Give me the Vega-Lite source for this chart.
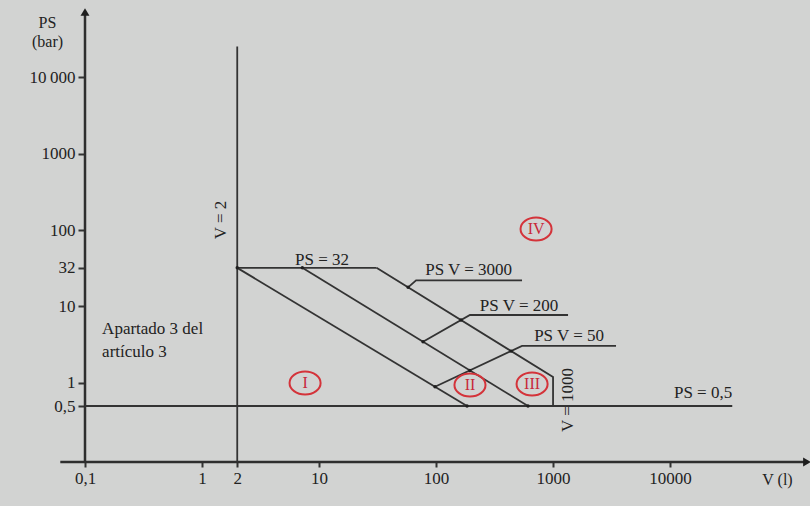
{
  "$schema": "https://vega.github.io/schema/vega-lite/v6.json",
  "autosize": {"type": "none"},
  "padding": {"left": 85, "top": 12, "right": 3, "bottom": 44},
  "width": 722,
  "height": 450,
  "background": "#d2d3d2",
  "config": {"view": {"stroke": null}, "font": "Liberation Serif"},
  "datasets": {
    "axes": [
      {"seg": "x", "ord": 1, "v": 0.0615, "ps": 0.0927},
      {"seg": "x", "ord": 2, "v": 148000, "ps": 0.0927},
      {"seg": "y", "ord": 1, "v": 0.1, "ps": 0.0927},
      {"seg": "y", "ord": 2, "v": 0.1, "ps": 70800}
    ],
    "arrows": [
      {"dir": "up", "v": 0.1, "ps": 70800},
      {"dir": "right", "v": 148000, "ps": 0.0927}
    ],
    "lines": [
      {"seg": "V2", "ord": 1, "v": 2, "ps": 0.0927},
      {"seg": "V2", "ord": 2, "v": 2, "ps": 25000},
      {"seg": "PS05", "ord": 1, "v": 0.1, "ps": 0.5},
      {"seg": "PS05", "ord": 2, "v": 34000, "ps": 0.5},
      {"seg": "PS32", "ord": 1, "v": 2, "ps": 32},
      {"seg": "PS32", "ord": 2, "v": 31, "ps": 32},
      {"seg": "A", "ord": 1, "v": 2, "ps": 32},
      {"seg": "A", "ord": 2, "v": 184, "ps": 0.5},
      {"seg": "B", "ord": 1, "v": 7.2, "ps": 32},
      {"seg": "B", "ord": 2, "v": 611, "ps": 0.5},
      {"seg": "C", "ord": 1, "v": 31, "ps": 32},
      {"seg": "C", "ord": 2, "v": 1000, "ps": 1.2},
      {"seg": "C", "ord": 3, "v": 1000, "ps": 0.5},
      {"seg": "L3000", "ord": 1, "v": 57.7, "ps": 17.8},
      {"seg": "L3000", "ord": 2, "v": 67.5, "ps": 22},
      {"seg": "L3000", "ord": 3, "v": 543, "ps": 22},
      {"seg": "L200", "ord": 1, "v": 77.4, "ps": 3.46},
      {"seg": "L200", "ord": 2, "v": 195, "ps": 7.74},
      {"seg": "L200", "ord": 3, "v": 1343, "ps": 7.74},
      {"seg": "L50", "ord": 1, "v": 98, "ps": 0.893},
      {"seg": "L50", "ord": 2, "v": 543, "ps": 3.05},
      {"seg": "L50", "ord": 3, "v": 3453, "ps": 3.05}
    ],
    "dots": [
      {"v": 2, "ps": 32},
      {"v": 7.2, "ps": 32},
      {"v": 57.7, "ps": 17.8},
      {"v": 77.4, "ps": 3.46},
      {"v": 163.5, "ps": 6.64},
      {"v": 98, "ps": 0.893},
      {"v": 194.6, "ps": 1.46},
      {"v": 438.5, "ps": 2.61},
      {"v": 184, "ps": 0.5},
      {"v": 611, "ps": 0.5}
    ],
    "labels": [
      {"text": "PS = 32", "v": 10.6, "ps": 41},
      {"text": "PS V = 3000", "v": 190, "ps": 30},
      {"text": "PS V = 200", "v": 512, "ps": 10.2},
      {"text": "PS V = 50", "v": 1371, "ps": 4.11},
      {"text": "PS = 0,5", "v": 19150, "ps": 0.74}
    ],
    "vlabels": [
      {"text": "V = 2", "v": 1.45, "ps": 135},
      {"text": "V = 1000", "v": 1343, "ps": 0.6}
    ],
    "notes": [
      {"text": "Apartado 3 del", "v": 0.14, "ps": 5.08},
      {"text": "artículo 3", "v": 0.14, "ps": 2.54}
    ],
    "cats": [
      {"text": "I", "v": 7.6, "ps": 1.0},
      {"text": "II", "v": 195, "ps": 0.94},
      {"text": "III", "v": 662, "ps": 0.97},
      {"text": "IV", "v": 716, "ps": 103}
    ]
  },
  "encoding": {
    "x": {
      "field": "v", "type": "quantitative",
      "scale": {"type": "log", "domain": [0.1, 148000], "nice": false},
      "axis": {
        "orient": "bottom", "domain": false, "grid": false,
        "values": [0.1, 1, 2, 10, 100, 1000, 10000],
        "labelExpr": "datum.value < 0.3 ? '0,1' : format(datum.value, 'd')",
        "tickSize": 5, "tickWidth": 2, "tickColor": "#333333",
        "labelFont": "Liberation Serif", "labelFontSize": 17, "labelColor": "#222222",
        "labelPadding": 3, "labelOverlap": false, "labelBound": false, "labelFlush": false,
        "title": "V (l)", "titleFont": "Liberation Serif", "titleFontSize": 16,
        "titleFontWeight": "normal", "titleColor": "#222222",
        "titleX": 692, "titleY": 17, "titleAlign": "center", "titleBaseline": "middle"
      }
    },
    "y": {
      "field": "ps", "type": "quantitative",
      "scale": {"type": "log", "domain": [0.0927, 70800], "nice": false},
      "axis": {
        "orient": "left", "domain": false, "grid": false,
        "values": [0.5, 1, 10, 32, 100, 1000, 10000],
        "labelExpr": "datum.value < 0.7 ? '0,5' : datum.value > 5000 ? '10\u2009000' : format(datum.value, 'd')",
        "tickSize": 7, "tickWidth": 2, "tickColor": "#333333",
        "labelFont": "Liberation Serif", "labelFontSize": 17, "labelColor": "#222222",
        "labelPadding": 3, "labelOverlap": false, "labelBound": false, "labelFlush": false,
        "title": ["PS", "(bar)"], "titleFont": "Liberation Serif", "titleFontSize": 16,
        "titleFontWeight": "normal", "titleColor": "#222222", "titleAngle": 0,
        "titleX": -38, "titleY": 2, "titleAlign": "center", "titleBaseline": "top", "titleLineHeight": 19
      }
    }
  },
  "layer": [
    {
      "data": {"name": "axes"},
      "mark": {"type": "line", "color": "#2e2e2e", "strokeWidth": 2.5},
      "encoding": {"detail": {"field": "seg"}, "order": {"field": "ord"}}
    },
    {
      "data": {"name": "arrows"},
      "mark": {"type": "point", "filled": true, "color": "#1e1e1e", "opacity": 1, "size": 80},
      "encoding": {
        "shape": {"field": "dir", "scale": {"domain": ["up", "right"], "range": ["triangle-up", "triangle-right"]}, "legend": null}
      }
    },
    {
      "data": {"name": "lines"},
      "mark": {"type": "line", "color": "#333333", "strokeWidth": 1.8},
      "encoding": {"detail": {"field": "seg"}, "order": {"field": "ord"}}
    },
    {
      "data": {"name": "dots"},
      "mark": {"type": "point", "filled": true, "color": "#1e1e1e", "opacity": 1, "size": 12}
    },
    {
      "data": {"name": "labels"},
      "mark": {"type": "text", "font": "Liberation Serif", "fontSize": 17, "color": "#222222", "align": "center", "baseline": "middle"},
      "encoding": {"text": {"field": "text"}}
    },
    {
      "data": {"name": "vlabels"},
      "mark": {"type": "text", "font": "Liberation Serif", "fontSize": 17, "color": "#222222", "align": "center", "baseline": "middle", "angle": 270},
      "encoding": {"text": {"field": "text"}}
    },
    {
      "data": {"name": "notes"},
      "mark": {"type": "text", "font": "Liberation Serif", "fontSize": 17, "color": "#222222", "align": "left", "baseline": "middle"},
      "encoding": {"text": {"field": "text"}}
    },
    {
      "data": {"name": "cats"},
      "mark": {"type": "point", "filled": false, "color": "#d4333a", "strokeWidth": 2, "opacity": 1, "size": 529,
               "shape": "M -1.35 0 A 1.35 1 0 1 0 1.35 0 A 1.35 1 0 1 0 -1.35 0 Z"}
    },
    {
      "data": {"name": "cats"},
      "mark": {"type": "text", "font": "Liberation Serif", "fontSize": 16, "color": "#c8283a", "align": "center", "baseline": "middle"},
      "encoding": {"text": {"field": "text"}}
    }
  ]
}
